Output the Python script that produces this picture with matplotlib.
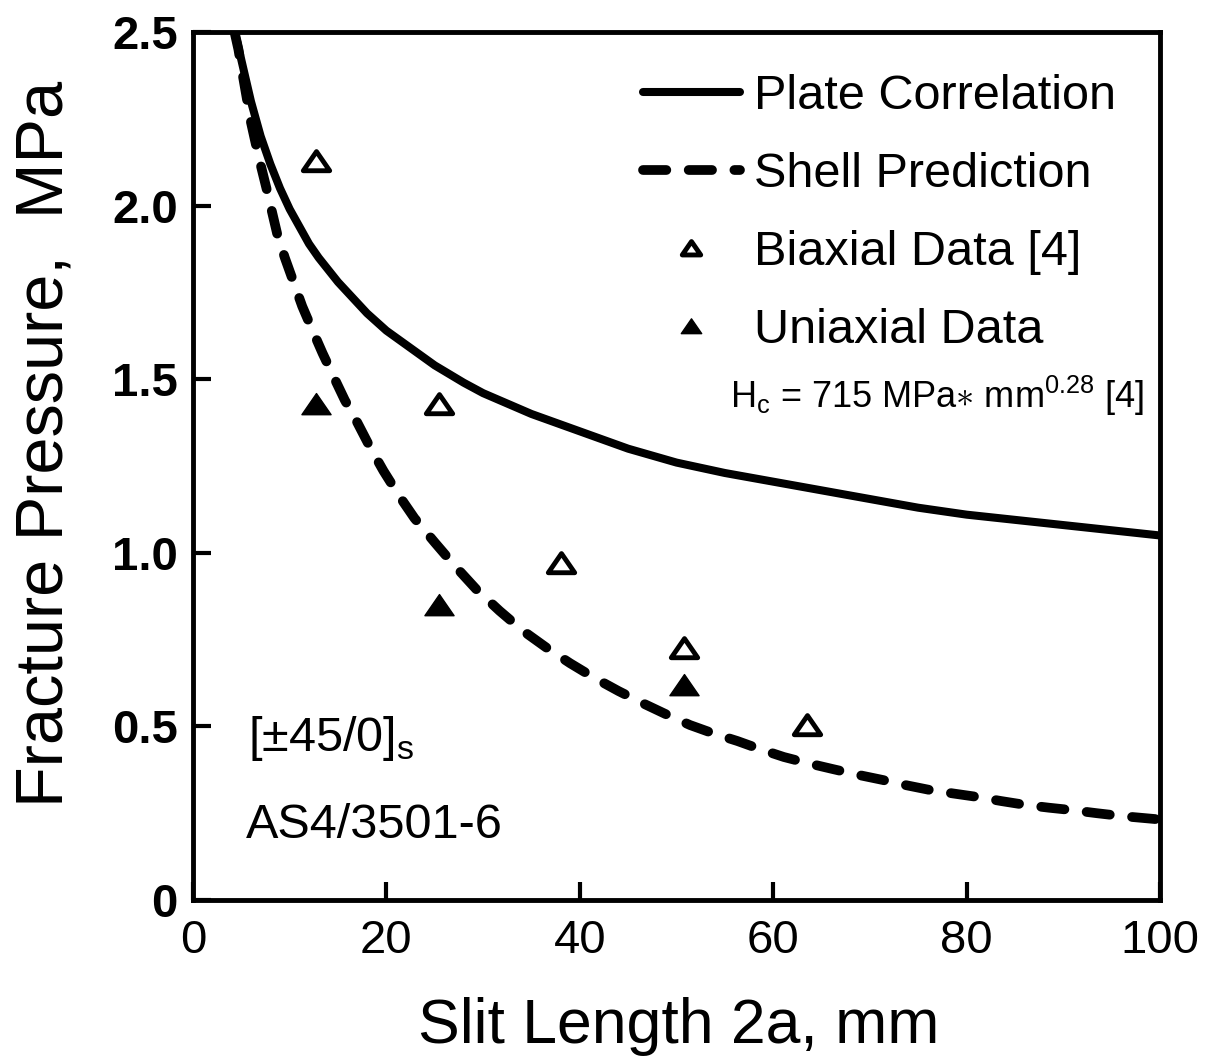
import matplotlib
matplotlib.use("Agg")
import matplotlib.pyplot as plt
from matplotlib.path import Path

plt.rcParams['font.family'] = ['Liberation Sans', 'DejaVu Sans']
plt.rcParams['mathtext.fontset'] = 'custom'
plt.rcParams['mathtext.rm'] = 'Liberation Sans'

# plate correlation (solid curve)
plate_x = [4.3, 4.6, 5, 5.5, 6, 6.5, 7, 7.5, 8, 9, 10, 11, 12, 13, 14, 15, 16, 18, 20, 22,
           25, 28, 30, 35, 40, 45, 50, 55, 60, 65, 70, 75, 80, 85, 90, 95, 100]
plate_y = [2.50, 2.47, 2.42, 2.36, 2.30, 2.25, 2.20, 2.16, 2.12, 2.05, 1.99, 1.94, 1.89,
           1.85, 1.815, 1.78, 1.75, 1.69, 1.64, 1.60, 1.54, 1.49, 1.46, 1.40, 1.35, 1.30,
           1.26, 1.23, 1.205, 1.18, 1.155, 1.13, 1.11, 1.095, 1.08, 1.065, 1.05]

# shell prediction (dashed curve)
shell_x = [4.3, 4.7, 5.0, 5.5, 6.0, 6.8, 7.6, 8.7, 9.5, 10.4, 11.3, 12.3, 13.4, 14.5, 15.7,
           17.0, 18.3, 19.7, 21.3, 22.9, 25.0, 27.0, 29.3, 31.7, 34.1, 36.6, 39.0, 41.5,
           44.0, 46.5, 49.0, 51.4, 53.8, 56.3, 58.7, 61.1, 63.6, 66.2, 68.7, 71.3, 73.7,
           76.2, 78.6, 81.1, 83.6, 86.1, 88.5, 90.9, 93.5, 96.0, 100]
shell_y = [2.50, 2.45, 2.40, 2.32, 2.24, 2.14, 2.05, 1.92, 1.85, 1.78, 1.71, 1.645, 1.575,
           1.51, 1.44, 1.375, 1.305, 1.236, 1.165, 1.10, 1.03, 0.965, 0.895, 0.833, 0.776,
           0.726, 0.682, 0.64, 0.602, 0.567, 0.534, 0.504, 0.48, 0.458, 0.434, 0.412, 0.394,
           0.377, 0.361, 0.346, 0.331, 0.317, 0.307, 0.297, 0.285, 0.274, 0.266, 0.259,
           0.25, 0.242, 0.232]

# test data
biax_x = [12.7, 25.4, 38.1, 50.8, 63.5]
biax_y = [2.13, 1.43, 0.97, 0.725, 0.505]
uniax_x = [12.7, 25.4, 50.8]
uniax_y = [1.43, 0.85, 0.62]

xticks = [0, 20, 40, 60, 80, 100]
yticks = [0, 0.5, 1.0, 1.5, 2.0, 2.5]
ytick_labels = ["0", "0.5", "1.0", "1.5", "2.0", "2.5"]

tri = Path([(-1.0, -0.7), (1.0, -0.7), (0.0, 0.75), (-1.0, -0.7)],
           [Path.MOVETO, Path.LINETO, Path.LINETO, Path.CLOSEPOLY])

fig = plt.figure(figsize=(12.09, 10.61), dpi=100)
ax = fig.add_axes([0.1596, 0.1517, 0.7999, 0.8181])

ax.plot(plate_x, plate_y, color="black", lw=5.8, solid_capstyle="round",
        solid_joinstyle="round", label="Plate Correlation")
ax.plot(shell_x, shell_y, color="black", lw=7, dashes=(2.4, 2.3), dash_capstyle="round",
        dash_joinstyle="round", label="Shell Prediction")
ax.plot(biax_x, biax_y, ls="none", marker=tri, ms=19, mfc="white", mec="black", mew=3.5,
        label="Biaxial Data [4]")
ax.plot(uniax_x, uniax_y, ls="none", marker=tri, ms=21, mfc="black", mec="black", mew=1,
        label="Uniaxial Data")

ax.set_xlim(0, 100)
ax.set_ylim(0, 2.5)
ax.set_xticks(xticks)
ax.set_yticks(yticks)
ax.set_yticklabels(ytick_labels, fontsize=34, fontweight="bold")
ax.tick_params(axis="x", labelsize=34, pad=14)
ax.tick_params(axis="y", pad=11)
ax.tick_params(direction="in", length=13, width=3, top=False, right=False)
for sp in ax.spines.values():
    sp.set_linewidth(3.5)

fig.text(679 / 1209, 1 - 1027 / 1061, "Slit Length 2a, mm", fontsize=45,
         ha="center", va="center")
fig.text(46 / 1209, 1 - 444 / 1061, "Fracture Pressure,  MPa", fontsize=48, rotation=90,
         ha="center", va="center")

leg = ax.legend(loc="upper left", bbox_to_anchor=(0.465, 0.952), frameon=False,
                fontsize=35, handlelength=2.0, handletextpad=0.3, labelspacing=0.68,
                borderpad=0, borderaxespad=0, markerscale=0.7)

ax.text(0.555, 0.567, r"H$_\mathregular{c}$ = 715 MPa$\ast$ mm$^\mathregular{0.28}$ [4]",
        transform=ax.transAxes, fontsize=26)
ax.text(0.057, 0.172, r"[$\pm$45/0]$_\mathregular{s}$", transform=ax.transAxes, fontsize=35)
ax.text(0.055, 0.072, "AS4/3501-6", transform=ax.transAxes, fontsize=35)

fig.savefig("out.png", dpi=100)
